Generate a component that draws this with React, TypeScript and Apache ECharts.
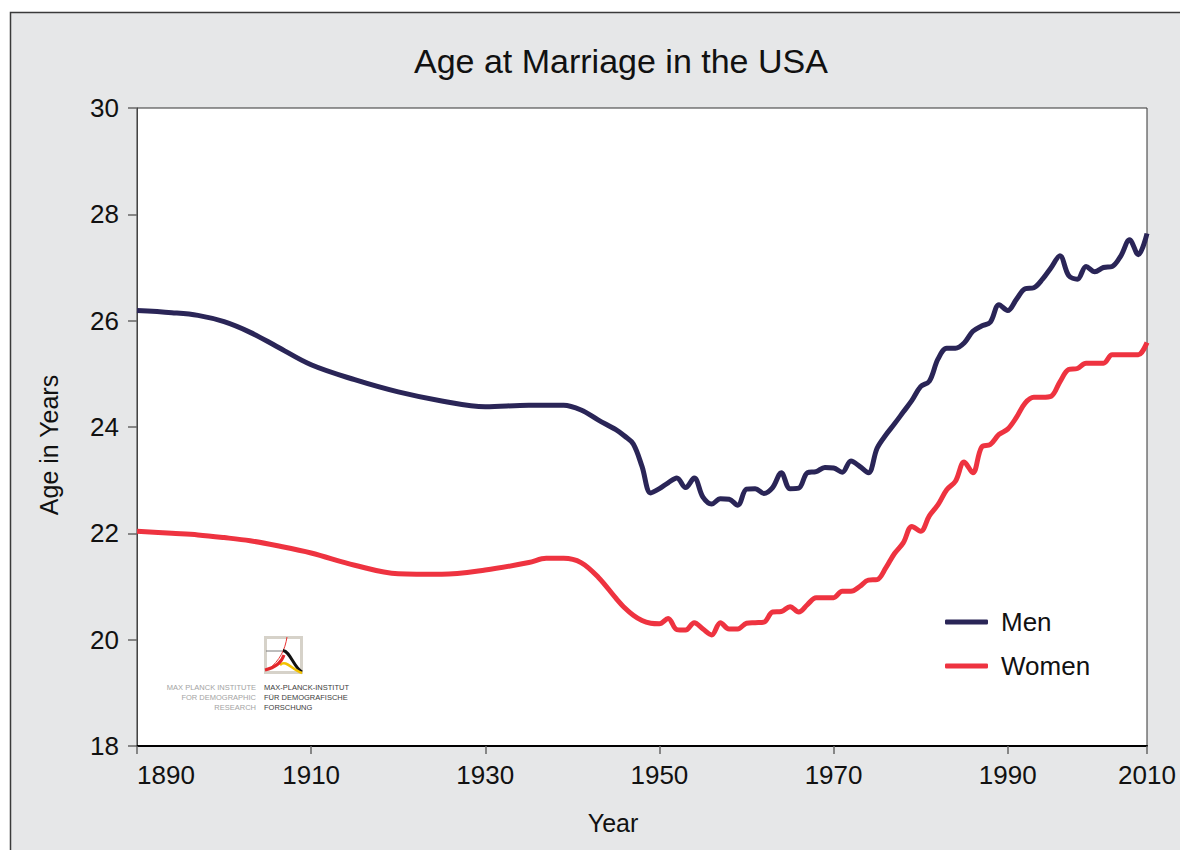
import React, { useEffect, useRef } from "react";
import * as echarts from "echarts";

const years = [
  1890, 1894, 1897, 1900, 1903, 1906, 1910, 1915, 1920, 1925, 1930, 1935, 1937, 1939, 1941, 1943, 1945,
  1946, 1947, 1948, 1949, 1950, 1951, 1952, 1953, 1954, 1955,
  1956, 1957, 1958, 1959, 1960, 1961, 1962, 1963, 1964, 1965,
  1966, 1967, 1968, 1969, 1970, 1971, 1972, 1973, 1974, 1975,
  1976, 1977, 1978, 1979, 1980, 1981, 1982, 1983, 1984, 1985,
  1986, 1987, 1988, 1989, 1990, 1991, 1992, 1993, 1994, 1995,
  1996, 1997, 1998, 1999, 2000, 2001, 2002, 2003, 2004, 2005, 2006,
];

const menAge = [
  26.19, 26.15, 26.1, 25.98, 25.78, 25.52, 25.17, 24.89, 24.66, 24.49, 24.38, 24.41, 24.41, 24.41, 24.32, 24.13, 23.95,
  23.83, 23.68, 23.26, 22.76, 22.84, 22.95, 23.04, 22.86, 23.04, 22.68,
  22.55, 22.65, 22.64, 22.53, 22.83, 22.84, 22.75, 22.86, 23.14, 22.84,
  22.85, 23.14, 23.16, 23.24, 23.23, 23.15, 23.36, 23.26, 23.14, 23.6,
  23.85, 24.06, 24.28, 24.5, 24.76, 24.86, 25.28, 25.48, 25.48, 25.58,
  25.8, 25.9, 25.97, 26.3, 26.19, 26.4, 26.6, 26.62, 26.78, 27.0,
  27.22, 26.85, 26.78, 27.02, 26.92, 27.0, 27.02, 27.22, 27.52, 27.24, 27.64,
];

const womenAge = [
  22.04, 22.0, 21.97, 21.92, 21.86, 21.77, 21.63, 21.4, 21.24, 21.23, 21.31, 21.45, 21.53, 21.53, 21.45, 21.17, 20.78,
  20.6, 20.46, 20.36, 20.31, 20.3, 20.4, 20.19, 20.18, 20.32, 20.2,
  20.09, 20.32, 20.2, 20.2, 20.31, 20.32, 20.33, 20.52, 20.53, 20.62,
  20.52, 20.66, 20.79, 20.79, 20.79, 20.91, 20.91, 21.0, 21.12, 21.13,
  21.35, 21.62, 21.82, 22.13, 22.04, 22.33, 22.54, 22.82, 22.98, 23.34,
  23.14, 23.62, 23.67, 23.86, 23.96, 24.18, 24.45, 24.56, 24.56, 24.58,
  24.85, 25.08, 25.1, 25.2, 25.2, 25.2, 25.36, 25.36, 25.36, 25.36, 25.59,
];

const xTickLabels = ["1890", "1910", "1930", "1950", "1970", "1990", "2010"];
const seriesNames = ["Men", "Women"];

const FONT = "'Liberation Sans', Arial, Helvetica, sans-serif";

export default function App() {
  const ref = useRef<HTMLDivElement>(null);

  useEffect(() => {
    if (!ref.current) return;
    const chart = echarts.init(ref.current, null, { renderer: "svg" });

    const menData = years.map((y, i) => [y, menAge[i]]);
    const womenData = years.map((y, i) => [y, womenAge[i]]);

    const logoText = (x: number, y: number, text: string, align: string, fill: string) => ({
      type: "text",
      style: { x, y, text, align, verticalAlign: "middle", fontSize: 7.5, fontFamily: FONT, fill },
    });

    const option: any = {
      animation: false,
      backgroundColor: "#ffffff",
      textStyle: { fontFamily: FONT },
      title: {
        text: "Age at Marriage in the USA",
        left: 414,
        top: 44,
        padding: 0,
        textStyle: { fontFamily: FONT, fontSize: 34, fontWeight: "normal", color: "#111" },
      },
      legend: {
        orient: "vertical",
        left: 945,
        top: 609,
        padding: 0,
        itemWidth: 43,
        itemHeight: 5,
        itemGap: 18,
        icon: "roundRect",
        textStyle: { fontFamily: FONT, fontSize: 26, color: "#111", padding: [0, 0, 0, 8] },
        data: seriesNames,
      },
      grid: {
        left: 137,
        top: 108,
        right: 33,
        bottom: 104,
        show: true,
        backgroundColor: "#ffffff",
        borderColor: "#333",
        borderWidth: 1,
        containLabel: false,
      },
      xAxis: {
        type: "value",
        min: 1890,
        max: 2006,
        interval: 20,
        name: "Year",
        nameLocation: "middle",
        nameGap: 64,
        nameTextStyle: { fontFamily: FONT, fontSize: 25, color: "#111", padding: [0, 58, 0, 0] },
        splitLine: { show: false },
        axisLine: { show: true, lineStyle: { color: "#000", width: 2 } },
        axisTick: { show: true, length: 8, lineStyle: { color: "#666", width: 1.5 } },
        axisLabel: {
          fontFamily: FONT,
          fontSize: 26,
          color: "#111",
          margin: 16,
          showMinLabel: true,
          showMaxLabel: true,
          alignMinLabel: "left",
          formatter: (_v: number, idx: number) => xTickLabels[idx] ?? "",
        },
      },
      yAxis: {
        type: "value",
        min: 18,
        max: 30,
        interval: 2,
        name: "Age in Years",
        nameLocation: "middle",
        nameGap: 76,
        nameTextStyle: { fontFamily: FONT, fontSize: 25, color: "#111", padding: [0, 36, 0, 0] },
        splitLine: { show: false },
        axisLine: { show: true, lineStyle: { color: "#444", width: 1 } },
        axisTick: { show: true, length: 9, lineStyle: { color: "#666", width: 1.5 } },
        axisLabel: { fontFamily: FONT, fontSize: 26, color: "#111", margin: 18 },
      },
      series: [
        {
          name: seriesNames[0],
          type: "line",
          data: menData,
          showSymbol: false,
          symbol: "none",
          smooth: 0.35,
          lineStyle: { color: "#2a2557", width: 5 },
          itemStyle: { color: "#2a2557" },
          z: 3,
        },
        {
          name: seriesNames[1],
          type: "line",
          data: womenData,
          showSymbol: false,
          symbol: "none",
          smooth: 0.35,
          lineStyle: { color: "#ee3340", width: 5 },
          itemStyle: { color: "#ee3340" },
          z: 3,
        },
      ],
      graphic: {
        elements: [
          {
            type: "rect",
            z: -10,
            silent: true,
            shape: { x: 10.5, y: 12.5, width: 1200, height: 860 },
            style: { fill: "#e6e7e8", stroke: "#3a3a3a", lineWidth: 1.5 },
          },
          {
            type: "group",
            z: 5,
            children: [
              {
                type: "rect",
                shape: { x: 265.5, y: 637.5, width: 36, height: 35 },
                style: { fill: "#ffffff", stroke: "#d6d2c9", lineWidth: 3 },
              },
              {
                type: "line",
                shape: { x1: 266, y1: 651, x2: 284, y2: 651 },
                style: { stroke: "#7a7a7a", lineWidth: 1 },
              },
              {
                type: "bezierCurve",
                shape: { x1: 268, y1: 670, cpx1: 280, cpy1: 660, cpx2: 285, cpy2: 650, x2: 287, y2: 637 },
                style: { stroke: "#e8302f", lineWidth: 1, fill: "none" },
              },
              {
                type: "bezierCurve",
                shape: { x1: 283, y1: 650.5, cpx1: 290, cpy1: 651, cpx2: 294, cpy2: 668, x2: 302, y2: 672 },
                style: { stroke: "#111111", lineWidth: 3, fill: "none" },
              },
              {
                type: "bezierCurve",
                shape: { x1: 280, y1: 665, cpx1: 286, cpy1: 659, cpx2: 292, cpy2: 670, x2: 302, y2: 673 },
                style: { stroke: "#f2c200", lineWidth: 2.5, fill: "none" },
              },
              {
                type: "bezierCurve",
                shape: { x1: 265, y1: 670, cpx1: 274, cpy1: 668, cpx2: 281, cpy2: 664, x2: 284, y2: 655 },
                style: { stroke: "#e3262b", lineWidth: 3, fill: "none" },
              },
              logoText(256, 687, "MAX PLANCK INSTITUTE", "right", "#a3a3a3"),
              logoText(256, 697.5, "FOR DEMOGRAPHIC", "right", "#a3a3a3"),
              logoText(256, 707.5, "RESEARCH", "right", "#a3a3a3"),
              logoText(264, 687, "MAX-PLANCK-INSTITUT", "left", "#3c3c3c"),
              logoText(264, 697.5, "FÜR DEMOGRAFISCHE", "left", "#3c3c3c"),
              logoText(264, 707.5, "FORSCHUNG", "left", "#3c3c3c"),
            ],
          },
        ],
      },
    };

    chart.setOption(option);
    return () => {
      chart.dispose();
    };
  }, []);

  return (
    <div
      ref={ref}
      style={{ position: "fixed", left: 0, top: 0, width: 1180, height: 850 }}
    />
  );
}
